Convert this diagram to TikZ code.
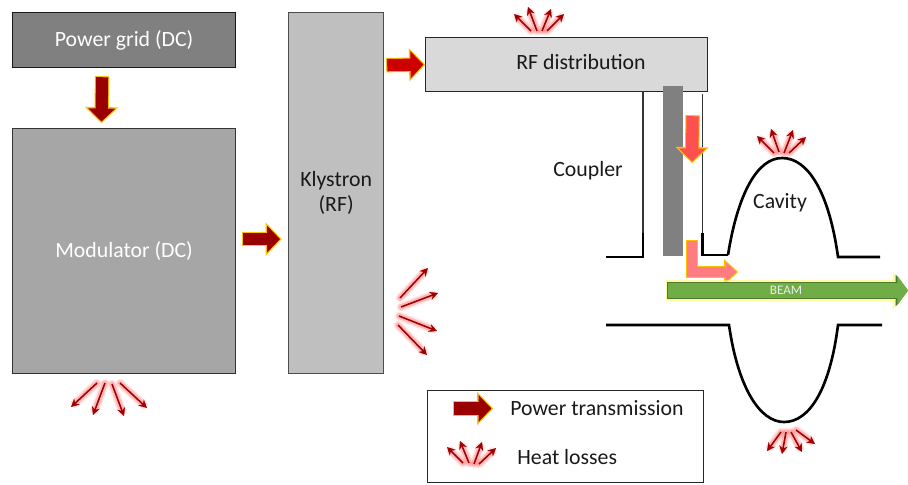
\documentclass[tikz,border=0pt]{standalone}
\usepackage{fontspec}
\setmainfont{Carlito}
\usetikzlibrary{arrows.meta}

\definecolor{goldline}{HTML}{FFC000}
\definecolor{heatred}{HTML}{A00000}
\definecolor{darkpower}{HTML}{990000}
\definecolor{midpower}{HTML}{CC0000}
\definecolor{lightpower}{HTML}{FF5050}
\definecolor{palepower}{HTML}{FF7C80}
\definecolor{beamgreen}{HTML}{70AD47}

\tikzset{
  block/.style={draw=#1, line width=0.7pt, anchor=north west, align=center, inner sep=0pt},
  label/.style={font=\fontsize{12.4}{14.5}\selectfont, text=black!90},
  fatlink/.style={draw=#1, line width=7pt, -{Triangle[length=7.4pt,width=15pt]},
    preaction={draw=goldline, line width=8.2pt, -{Triangle[length=9.2pt,width=18.4pt]},
      shorten >=-1pt, shorten <=-.6pt}},
  bentlink/.style={draw=#1, line width=5.4pt, line join=miter, -{Triangle[length=6.2pt,width=11pt]},
    preaction={draw=goldline, line width=6.6pt, line join=miter, -{Triangle[length=8pt,width=14pt]},
      shorten >=-1pt, shorten <=-.6pt}},
  heat/.style={draw=heatred, line width=0.9pt, -{Stealth[length=4.6pt,width=4.6pt]},
    preaction={draw=red, line width=5pt, opacity=.10, line cap=round},
    preaction={draw=red, line width=3.2pt, opacity=.20, line cap=round}},
  wall/.style={draw=black, line width=1.5pt},
  thinwall/.style={draw=black!80, line width=0.6pt}
}

\begin{document}
\begin{tikzpicture}[x=0.02cm,y=-0.02cm]
  \useasboundingbox (0,0) rectangle (908,484);

  % blocks
  \node[block=black!90, fill=black!50, minimum width=223*0.02cm, minimum height=55*0.02cm, label, text=white] (grid) at (12,12) {Power grid (DC)};
  \node[block=black!80, fill=black!35, minimum width=223*0.02cm, minimum height=245*0.02cm, label, text=white] (modulator) at (12,128) {Modulator (DC)};
  \node[block=black!70, fill=black!25, minimum width=95*0.02cm, minimum height=361*0.02cm, label] (klystron) at (288,12) {Klystron\\(RF)};
  \node[block=black!85, fill=black!15, minimum width=282*0.02cm, minimum height=54*0.02cm] (rfdist) at (425,37) {};
  \node[label] (rflabel) at (581,62) {RF distribution};

  % coupler
  \node[fill=black!50, minimum width=20*0.02cm, minimum height=170*0.02cm, inner sep=0pt, anchor=north west] (rod) at (663,86) {};
  \draw[thinwall] (643,91) -- (643,233);
  \draw[thinwall] (702.5,94) -- (702.5,233);
  \draw[wall] (606,257) -- (643,257) -- (643,233);
  \draw[wall] (702.5,233) -- (702.5,255) -- (728,255);
  \node[label, anchor=center] (couplerlabel) at (588,171) {Coupler};

  % cavity
  \draw[wall] (728,255) .. controls (738,192) and (758,158) .. (782,158) .. controls (808,158) and (829,192) .. (838,257) -- (880,257);
  \draw[wall] (606,325) -- (729,325) .. controls (738,388) and (760,422) .. (784,422) .. controls (810,422) and (830,388) .. (838,325) -- (882,325);
  \node[label, anchor=center] (cavitylabel) at (780,202.5) {Cavity};

  % power flow
  \coordinate (gridin) at (101.5,121.5);
  \coordinate (rodtop) at (692,161.5);
  \coordinate (rodbottom) at (692,241);
  \coordinate (rodout) at (736.5,272);
  \draw[fatlink=darkpower] ([shift={(-22,9)}]grid.south) -- (gridin);
  \draw[fatlink=darkpower] ([shift={(7,-12)}]modulator.east) -- ([shift={(-8,46)}]klystron.west);
  \draw[fatlink=midpower] ([shift={(3,-128)}]klystron.east) -- ([shift={(-1.5,0)}]rfdist.west);
  \draw[fatlink=lightpower] ([shift={(126,24)}]rfdist.south) -- (rodtop);
  \draw[bentlink=palepower] (rodbottom) |- (rodout);

  % beam
  \coordinate (beamin) at (668,290.5);
  \coordinate (beamout) at (908,290.5);
  \draw[draw=beamgreen, line width=8.6pt, -{Triangle[length=6pt,width=16.4pt]},
    preaction={draw=yellow!60, opacity=.6, line width=11.4pt, -{Triangle[length=8.6pt,width=20.6pt]}, shorten <=-1pt},
    preaction={draw=beamgreen!70!black, line width=9.4pt, -{Triangle[length=7pt,width=17.8pt]}, shorten <=-.4pt}] (beamin) -- (beamout);
  \node[font=\fontsize{7.5}{9}\selectfont, text=white!92!black] (beamlabel) at (786,290.5) {BEAM};

  % legend
  \node[draw=black!85, line width=0.6pt, minimum width=276*0.02cm, minimum height=92*0.02cm, inner sep=0pt, anchor=north west] (legend) at (427,389.5) {};
  \coordinate (legendin) at (454,408.5);
  \coordinate (legendout) at (491.5,408.5);
  \draw[fatlink=darkpower] (legendin) -- (legendout);
  \node[label, anchor=west, inner sep=0pt] (powerlabel) at (510,408) {Power transmission};
  \node[label, anchor=west, inner sep=0pt] (heatlabel) at (517,457) {Heat losses};

  % heat losses
  \foreach \xa/\ya/\xb/\yb in {
      531/31/514/14, 537/31/528/7, 542/31/551/9, 547/31/564/14, % RF distribution
      774/153/757/136, 779/152/771/129, 784/153/793/130, 789/153/806/137, % cavity top
      781/432/767/451, 786/432/782/454, 791/432/802/452, 796/430/815/444, % cavity bottom
      97/383/71/407, 105/383/93/415, 112/384/124/416, 120/383/147/408, % modulator
      400/298/428/268, 401/307/438/293, 399/316/437/331, 398/325/427/355, % klystron
      463/463/447/447, 469/463/460/441, 474/464/482/442, 479/464/496/448} % legend
    \draw[heat] (\xa,\ya) -- (\xb,\yb);
\end{tikzpicture}
\end{document}
